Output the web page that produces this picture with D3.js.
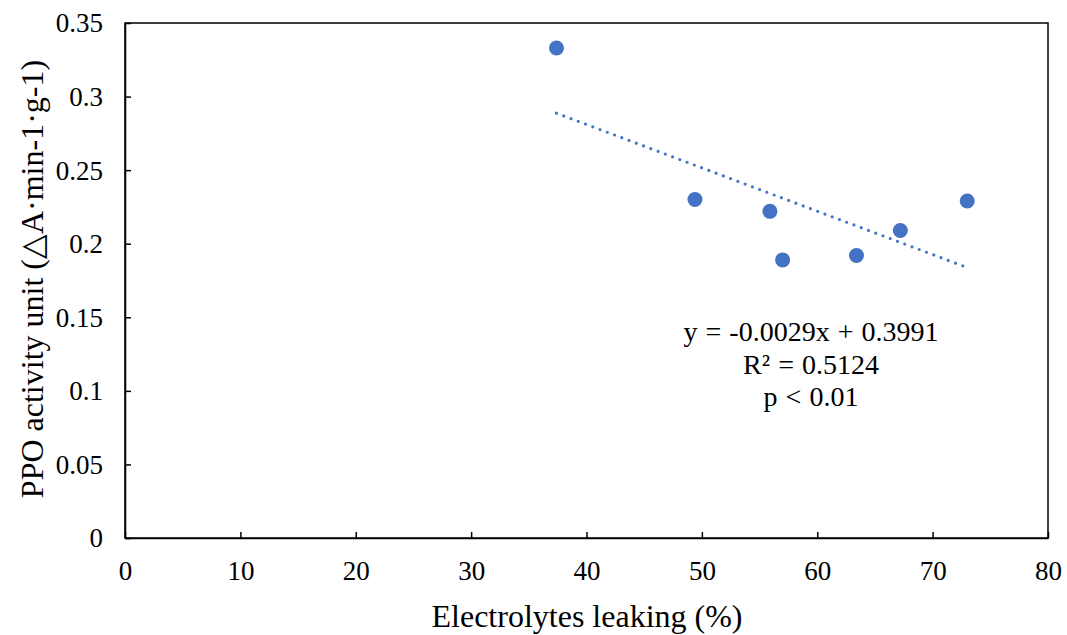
<!DOCTYPE html>
<html>
<head>
<meta charset="utf-8">
<script src="https://cdn.jsdelivr.net/npm/d3@7"></script>
<style>
  body { margin: 0; background: #fff; }
  svg text { font-family: "Times New Roman", "Liberation Serif", Tinos, serif; fill: #000; }
</style>
</head>
<body>
<div id="chart"></div>
<script>
// data
const leaking = [37.4, 49.4, 55.9, 57.0, 63.4, 67.2, 73.0];
const ppo = [0.333, 0.230, 0.222, 0.189, 0.192, 0.209, 0.229];
const xTicks = [0, 10, 20, 30, 40, 50, 60, 70, 80];
const yTicks = [0, 0.05, 0.1, 0.15, 0.2, 0.25, 0.3, 0.35];
const noteLines = ["y = -0.0029x + 0.3991", "R\u00B2 = 0.5124", "p < 0.01"];

const serif = '"Times New Roman", "Liberation Serif", Tinos, serif';
const width = 1067, height = 635;
const margin = { top: 23, right: 19, bottom: 97, left: 125 };

const svg = d3.select("#chart").append("svg")
  .attr("width", width).attr("height", height);

const x = d3.scaleLinear().domain([0, 80]).range([margin.left, width - margin.right]);
const y = d3.scaleLinear().domain([0, 0.35]).range([height - margin.bottom, margin.top]);

// box
svg.append("rect")
  .attr("x", x(0)).attr("y", y(0.35))
  .attr("width", x(80) - x(0)).attr("height", y(0) - y(0.35))
  .attr("fill", "none").attr("stroke", "#000").attr("stroke-width", 1.5);

// axes, ticks inside
const xAxis = svg.append("g")
  .attr("transform", `translate(0,${y(0)})`)
  .call(d3.axisBottom(x).tickValues(xTicks).tickSizeInner(-6).tickSizeOuter(0));
const yAxis = svg.append("g")
  .attr("transform", `translate(${x(0)},0)`)
  .call(d3.axisLeft(y).tickValues(yTicks).tickSizeInner(-6).tickSizeOuter(0).tickPadding(22)
    .tickFormat(d => d === 0 ? "0" : String(+d.toFixed(2))));

[xAxis, yAxis].forEach(g => {
  g.attr("font-family", null).attr("font-size", null);
  g.select(".domain").attr("stroke", "#000").attr("stroke-width", 1.5);
  g.selectAll(".tick line").attr("stroke", "#000").attr("stroke-width", 1.5);
  g.selectAll(".tick text").style("font-size", "27px").style("font-family", serif);
});
xAxis.selectAll(".tick text").attr("y", 42).attr("dy", null);
yAxis.selectAll(".tick text").attr("dy", "0.33em");

// axis titles
svg.append("text")
  .attr("x", 587).attr("y", 627)
  .attr("text-anchor", "middle").style("font-size", "32px")
  .text("Electrolytes leaking (%)");

svg.append("text")
  .attr("transform", `translate(43,279) rotate(-90)`)
  .attr("text-anchor", "middle").style("font-size", "32px")
  .text("PPO activity unit (\u25B3A\u00B7min-1\u00B7g-1)");

// linear trend (least squares on the points)
const mx = d3.mean(leaking), my = d3.mean(ppo);
const slope = d3.sum(leaking, (v, i) => (v - mx) * (ppo[i] - my)) / d3.sum(leaking, v => (v - mx) ** 2);
const intercept = my - slope * mx;
const xMin = d3.min(leaking), xMax = d3.max(leaking);
svg.append("line")
  .attr("x1", x(xMin)).attr("y1", y(slope * xMin + intercept))
  .attr("x2", x(xMax)).attr("y2", y(slope * xMax + intercept))
  .attr("stroke", "#4472C4").attr("stroke-width", 3.2)
  .attr("stroke-linecap", "round").attr("stroke-dasharray", "0 7.75");

// points
svg.selectAll(".pt")
  .data(leaking.map((v, i) => [v, ppo[i]]))
  .enter().append("circle")
  .attr("class", "pt")
  .attr("cx", d => x(d[0])).attr("cy", d => y(d[1]))
  .attr("r", 7.5)
  .attr("fill", "#4472C4");

// equation note
svg.append("g").selectAll("text")
  .data(noteLines)
  .enter().append("text")
  .attr("x", 811).attr("y", (d, i) => 341 + i * 32.5)
  .attr("text-anchor", "middle")
  .style("font-size", "28px").style("word-spacing", "1px")
  .text(d => d);
</script>
</body>
</html>
